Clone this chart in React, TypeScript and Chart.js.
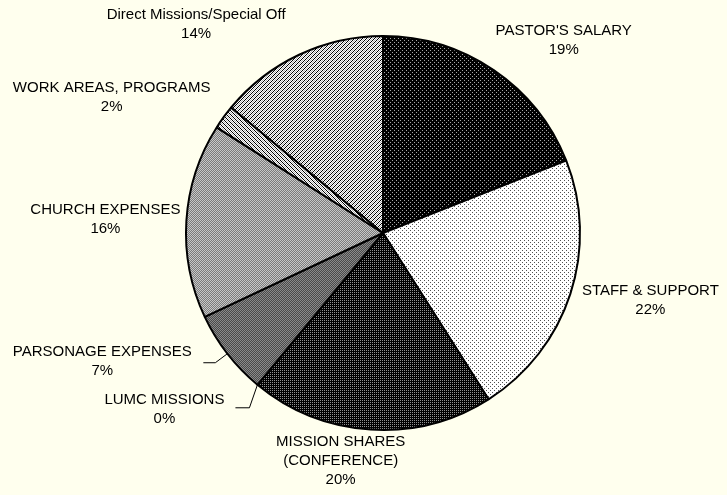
import React, { useEffect, useRef } from "react";
import { Chart, registerables } from "chart.js";

Chart.register(...registerables);

const categories: string[][] = [
  ["PASTOR'S SALARY"],
  ["STAFF & SUPPORT"],
  ["MISSION SHARES", "(CONFERENCE)"],
  ["LUMC MISSIONS"],
  ["PARSONAGE EXPENSES"],
  ["CHURCH EXPENSES"],
  ["WORK AREAS, PROGRAMS"],
  ["Direct Missions/Special Off"],
];
const values: number[] = [19, 22, 20, 0, 7, 16, 2, 14];

// label block offsets from each slice's outer mid-point (layout only)
const labelOffsets: [number, number][] = [
  [70, -30],
  [80, 6],
  [-30, 31],
  [-93, 25],
  [-125, 8],
  [-81, -1],
  [-112, -20],
  [-103, -30],
];
// leader lines: [elbow dx, elbow dy, horizontal length] (null = none)
const leaders: ([number, number, number] | null)[] = [
  null, null, null, [-8, 23, -14], [-12, 9, -12], null, null, null,
];

type Px = (x: number, y: number) => string | null;
function makePattern(size: number, bg: string, px: Px): CanvasPattern | string {
  const c = document.createElement("canvas");
  c.width = size;
  c.height = size;
  const g = c.getContext("2d")!;
  g.fillStyle = bg;
  g.fillRect(0, 0, size, size);
  for (let y = 0; y < size; y++) {
    for (let x = 0; x < size; x++) {
      const col = px(x, y);
      if (col) {
        g.fillStyle = col;
        g.fillRect(x, y, 1, 1);
      }
    }
  }
  const p = g.createPattern(c, "repeat");
  return p || bg;
}

export default function App() {
  const ref = useRef<HTMLCanvasElement | null>(null);

  useEffect(() => {
    if (!ref.current) return;
    const fills = [
      makePattern(4, "#000000", (x, y) => ((x === 0 && y === 0) || (x === 2 && y === 2) ? "#a8a8a8" : null)),
      makePattern(4, "#ffffff", (x, y) => ((x === 0 && y === 0) || (x === 2 && y === 2) ? "#505050" : null)),
      makePattern(2, "#000000", (x, y) => (x === 0 && y === 0 ? "#909090" : null)),
      "#000000",
      makePattern(2, "#4a4a4a", (x, y) => ((x + y) % 2 === 0 ? "#8a8a8a" : null)),
      makePattern(2, "#7c7c7c", (x, y) => ((x + y) % 2 === 0 ? "#c8c8c8" : null)),
      makePattern(4, "#ffffff", (x, y) => ((x - y + 8) % 4 === 0 ? "#000000" : (x - y + 8) % 4 === 2 ? "#b0b0b0" : null)),
      makePattern(4, "#ffffff", (x, y) => ((x + y) % 4 === 0 ? "#000000" : (x + y) % 4 === 2 ? "#b0b0b0" : null)),
    ];

    const total = values.reduce((a, b) => a + b, 0);

    const labelPlugin = {
      id: "pieLabels",
      afterDraw(chart: any) {
        const ctx = chart.ctx as CanvasRenderingContext2D;
        const meta = chart.getDatasetMeta(0);
        ctx.save();
        ctx.font = "15px 'Liberation Sans', Arial, sans-serif";
        ctx.fillStyle = "#000";
        ctx.textAlign = "center";
        ctx.textBaseline = "middle";
        ctx.strokeStyle = "#000";
        ctx.lineWidth = 1;
        meta.data.forEach((arc: any, i: number) => {
          const p = arc.getProps(["x", "y", "startAngle", "endAngle", "outerRadius"], true);
          const mid = (p.startAngle + p.endAngle) / 2;
          const ex = p.x + Math.cos(mid) * p.outerRadius;
          const ey = p.y + Math.sin(mid) * p.outerRadius;
          const lines = [...categories[i], Math.round((values[i] / total) * 100) + "%"];
          const lh = 19;
          const cx = ex + labelOffsets[i][0];
          const cy = ey + labelOffsets[i][1];
          const y0 = cy - ((lines.length - 1) * lh) / 2;
          lines.forEach((t, k) => ctx.fillText(t, cx, y0 + k * lh));
          const ld = leaders[i];
          if (ld) {
            ctx.beginPath();
            ctx.moveTo(ex, ey);
            ctx.lineTo(ex + ld[0], ey + ld[1]);
            ctx.lineTo(ex + ld[0] + ld[2], ey + ld[1]);
            ctx.stroke();
          }
        });
        ctx.restore();
      },
    };

    const chart = new Chart(ref.current, {
      type: "pie",
      data: {
        labels: categories.map((c) => c.join(" ")),
        datasets: [
          {
            data: values,
            backgroundColor: fills as any,
            borderColor: "#000000",
            borderWidth: 2,
          },
        ],
      },
      options: {
        responsive: false,
        animation: false,
        layout: { padding: { left: 185, right: 146, top: 35, bottom: 64 } },
        plugins: {
          legend: { display: false },
          tooltip: { enabled: false },
        },
        events: [],
      },
      plugins: [labelPlugin],
    });
    return () => chart.destroy();
  }, []);

  return (
    <div
      style={{
        position: "absolute",
        left: 0,
        top: 0,
        width: 727,
        height: 495,
        background: "#FFFFEE",
      }}
    >
      <canvas ref={ref} width={727} height={495} />
    </div>
  );
}
